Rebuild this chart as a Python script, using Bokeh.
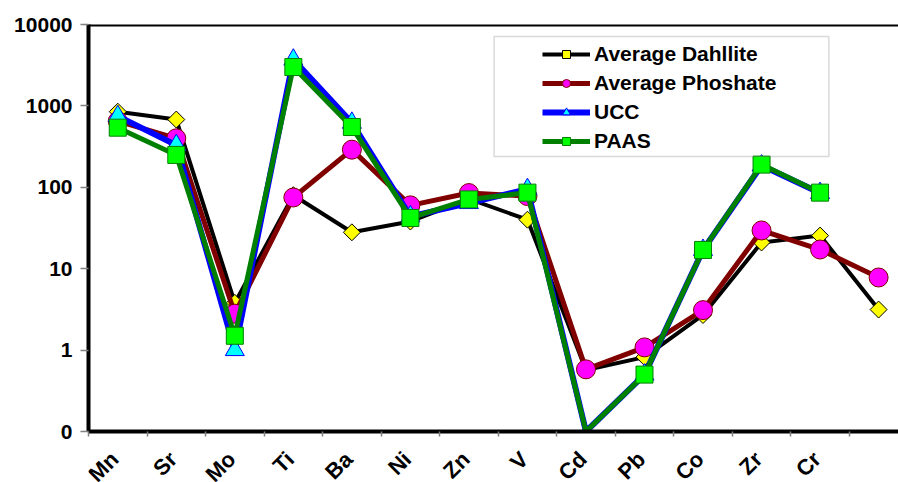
import math
from bokeh.plotting import figure
from bokeh.layouts import column
from bokeh.core.properties import value
from bokeh.models import (Range1d, FixedTicker, Span, BoxAnnotation, Legend,
                          LegendItem, ColumnDataSource, CDSView, BooleanFilter)
from bokeh.embed import file_html
from bokeh.resources import INLINE

# ---- data ----
elements = ["Mn", "Sr", "Mo", "Ti", "Ba", "Ni", "Zn", "V", "Cd", "Pb", "Co", "Zr", "Cr", ""]
dahllite = [850, 680, 3.8, 80, 28, 38, 72, 40, 0.57, 0.82, 2.7, 21, 25.5, 3.15]
phosphate = [650, 400, 2.8, 75, 290, 60, 85, 78, 0.58, 1.08, 3.1, 29.5, 17.2, 7.8]
ucc = [750, 330, 1.0, 3700, 620, 44, 64, 95, 0.1, 0.5, 17, 185, 85, None]
paas = [540, 250, 1.5, 3000, 550, 42, 71, 86, 0.1, 0.5, 17, 190, 86, None]
y_ticks = [0.1, 1, 10, 100, 1000, 10000]
y_tick_labels = ["0", "1", "10", "100", "1000", "10000"]

Y_MIN, Y_MAX = 0.1, 10000
X0, X1 = -0.5, 13.34
FONT = "Liberation Sans"
FSIZE = "21px"
W = 898
LEFT = 88
TOP_H = 442
BOT_H = 40
n = len(elements)

x_range = Range1d(X0, X1)
p = figure(width=W, height=TOP_H,
           x_range=x_range, y_range=Range1d(Y_MIN, Y_MAX),
           y_axis_type="log", output_backend="svg", toolbar_location=None,
           min_border_left=LEFT, min_border_right=0, min_border_top=24,
           min_border_bottom=11)
p.outline_line_color = None
p.grid.visible = False
p.background_fill_color = "white"
p.border_fill_color = "white"

# y axis
ya = p.yaxis[0]
ya.ticker = FixedTicker(ticks=y_ticks)
ya.major_label_overrides = {t: l for t, l in zip(y_ticks, y_tick_labels)}
ya.axis_line_width = 4
ya.axis_line_color = "black"
ya.major_tick_line_color = "#808080"
ya.major_tick_line_width = 1.5
ya.major_tick_out = 8
ya.major_tick_in = 0
ya.minor_tick_line_color = None
ya.major_label_standoff = 8
ya.major_label_text_font = FONT
ya.major_label_text_font_style = "bold"
ya.major_label_text_font_size = FSIZE
ya.major_label_text_color = "black"

# x axis: separator ticks only; category names are drawn in the strip below
xa = p.xaxis[0]
xa.ticker = FixedTicker(ticks=[], minor_ticks=[i - 0.5 for i in range(n)])
xa.axis_line_width = 4
xa.axis_line_color = "black"
xa.major_tick_line_color = None
xa.major_tick_out = 0
xa.major_tick_in = 0
xa.minor_tick_line_color = "#808080"
xa.minor_tick_line_width = 1.5
xa.minor_tick_out = 5
xa.minor_tick_in = 0
xa.major_label_text_font_size = "0px"

# top border
p.add_layout(Span(location=Y_MAX, dimension="width", line_color="black", line_width=4))

series = [
    ("Average Dahllite", dahllite, "black", 4, "square", 12, math.pi / 4, "yellow", "black"),
    ("Average Phoshate", phosphate, "#800000", 5, "circle", 19, 0, "#FF00FF", "#800000"),
    ("UCC", ucc, "blue", 6, "triangle", 19, 0, "cyan", "blue"),
    ("PAAS", paas, "green", 5, "square", 17, 0, "lime", "green"),
]

items = []
for name, vals, lc, lw, marker, size, ang, fc, mc in series:
    ys = [float("nan") if v is None else v for v in vals]
    src = ColumnDataSource(dict(x=list(range(n)), y=ys))
    line = p.line("x", "y", source=src, line_color=lc, line_width=lw)
    keep = [(v is not None) and v > Y_MIN for v in vals]
    sc = p.scatter("x", "y", source=src, view=CDSView(filter=BooleanFilter(keep)),
                   marker=marker, size=size, angle=ang, fill_color=fc,
                   line_color=mc, line_width=1)
    items.append(LegendItem(label=name, renderers=[line, sc]))

# legend frame
p.add_layout(BoxAnnotation(left=6.43, right=12.15, top=7130, bottom=239,
                           fill_alpha=0, line_color="#808080", line_width=1.5))

legend = Legend(items=items, location=(454, 278), padding=0, margin=0,
                spacing=5, glyph_width=48, glyph_height=20, label_height=20,
                label_standoff=4, border_line_alpha=0, background_fill_alpha=0,
                label_text_font=FONT, label_text_font_style="bold",
                label_text_font_size=FSIZE, label_text_color="black")
p.add_layout(legend)

# ---- strip with the rotated category names, sharing the main x scale ----
pb = figure(width=W, height=BOT_H,
            x_range=x_range, y_range=Range1d(0, BOT_H),
            output_backend="svg", toolbar_location=None,
            x_axis_location=None, y_axis_location=None,
            min_border_left=LEFT, min_border_right=0, min_border_top=0,
            min_border_bottom=0)
pb.outline_line_color = None
pb.grid.visible = False
pb.background_fill_color = "white"
pb.border_fill_color = "white"
lab_src = ColumnDataSource(dict(x=list(range(n)), y=[BOT_H - 13] * n, text=elements))
pb.text("x", "y", text="text", source=lab_src, angle=math.pi / 4,
        x_offset=-3, text_align="right", text_baseline="middle",
        text_font=value(FONT), text_font_style="bold",
        text_font_size=value("22px"), text_color="black")

layout = column(p, pb, spacing=0)
open("out.html", "w").write(file_html(layout, INLINE))
